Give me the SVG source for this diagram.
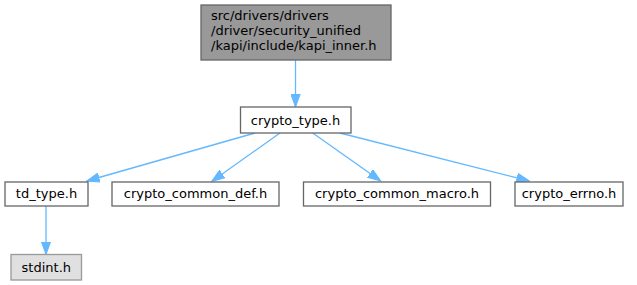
<svg xmlns="http://www.w3.org/2000/svg" width="637" height="285" viewBox="0 0 637 285">
<defs>
<style>
text{font-family:"DejaVu Sans","Liberation Sans",sans-serif;font-size:13px;fill:#000}
.c{text-anchor:middle}
.box{fill:#fff;stroke:#666;stroke-width:1.3}
.root{fill:#999;stroke:#666;stroke-width:1.3}
.ext{fill:#e0e0e0;stroke:#999;stroke-width:1.3}
.edge{fill:none;stroke:#63b8ff;stroke-width:1.3}
</style>
<marker id="ah" markerUnits="userSpaceOnUse" markerWidth="14" markerHeight="10" refX="13" refY="5" orient="auto">
<path d="M0,0.3 L13,5 L0,9.7 Z" fill="#63b8ff" stroke="#63b8ff" stroke-width="1"/>
</marker>
</defs>
<g id="edges">
<path class="edge" d="M295.5,60 L295.5,107" marker-end="url(#ah)"/>
<path class="edge" d="M255,133 L86.7,181" marker-end="url(#ah)"/>
<path class="edge" d="M280,133 L211.7,181.5" marker-end="url(#ah)"/>
<path class="edge" d="M312.7,133 L380.7,181" marker-end="url(#ah)"/>
<path class="edge" d="M340,133 L529.3,181" marker-end="url(#ah)"/>
<path class="edge" d="M46,206 L46,254.5" marker-end="url(#ah)"/>
</g>
<g id="kapi_inner">
<rect class="root" x="201" y="5" width="190" height="55"/>
<text x="211" y="20">src/drivers/drivers</text>
<text x="211" y="35">/driver/security_unified</text>
<text x="211" y="50">/kapi/include/kapi_inner.h</text>
</g>
<g id="crypto_type">
<rect class="box" x="240.5" y="107" width="110.5" height="26"/>
<text class="c" x="295.5" y="125">crypto_type.h</text>
</g>
<g id="td_type">
<rect class="box" x="5" y="182" width="83" height="24"/>
<text class="c" x="46.5" y="198">td_type.h</text>
</g>
<g id="crypto_common_def">
<rect class="box" x="112" y="182" width="167" height="24"/>
<text class="c" x="195.5" y="198">crypto_common_def.h</text>
</g>
<g id="crypto_common_macro">
<rect class="box" x="303.5" y="182" width="187" height="24"/>
<text class="c" x="397" y="198">crypto_common_macro.h</text>
</g>
<g id="crypto_errno">
<rect class="box" x="515" y="182" width="108" height="24"/>
<text class="c" x="569" y="198">crypto_errno.h</text>
</g>
<g id="stdint">
<rect class="ext" x="11" y="254.5" width="70.5" height="25.5"/>
<text class="c" x="46.3" y="272">stdint.h</text>
</g>
</svg>
